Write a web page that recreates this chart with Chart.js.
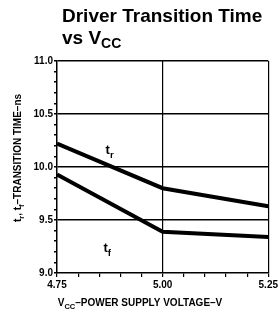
<!DOCTYPE html>
<html>
<head>
<meta charset="utf-8">
<script src="https://cdn.jsdelivr.net/npm/chart.js@4/dist/chart.umd.min.js"></script>
<style>
  html, body { margin: 0; padding: 0; background: #fff; }
  #wrap { position: relative; width: 280px; height: 322px; }
</style>
</head>
<body>
<div id="wrap"><canvas id="chart"></canvas></div>
<script>
// supply voltage (V) and transition times (ns)
const vcc = [4.75, 5.00, 5.25];
const t_rise = [10.22, 9.80, 9.63];
const t_fall = [9.93, 9.39, 9.34];
const y_labels = ['9.0', '9.5', '10.0', '10.5', '11.0'];
const x_labels = ['4.75', '5.00', '5.25'];

const FONT = "'Liberation Sans Narrow', 'Liberation Sans', Arial, sans-serif";

// draw text with a subscript part, returns width
function subText(ctx, parts, x, y, size) {
    let cx = x;
    parts.forEach(p => {
        const s = p.sub ? size * 0.75 : size;
        ctx.font = 'bold ' + s + 'px ' + FONT;
        ctx.fillText(p.t, cx, y + (p.sub ? size * 0.3 : 0));
        cx += ctx.measureText(p.t).width;
    });
    return cx - x;
}
function measure(ctx, parts, size) {
    let w = 0;
    parts.forEach(p => {
        ctx.font = 'bold ' + (p.sub ? size * 0.75 : size) + 'px ' + FONT;
        w += ctx.measureText(p.t).width;
    });
    return w;
}

const labels_plugin = {
    id: 'labels_plugin',
    afterDraw(chart) {
        const ctx = chart.ctx;
        const xs = chart.scales.x, ys = chart.scales.y;
        ctx.save();
        ctx.fillStyle = '#000';
        ctx.textBaseline = 'alphabetic';

        // title
        ctx.font = 'bold 19px Arial, "Liberation Sans", sans-serif';
        ctx.fillText('Driver Transition Time', 62, 22);
        ctx.fillText('vs V', 62, 44);
        let w = ctx.measureText('vs V').width;
        ctx.font = 'bold 14px Arial, "Liberation Sans", sans-serif';
        ctx.fillText('CC', 62 + w, 48);

        // curve labels
        subText(ctx, [{t: 't'}, {t: 'r', sub: true}], xs.getPixelForValue(4.865), ys.getPixelForValue(10.12), 13);
        subText(ctx, [{t: 't'}, {t: 'f', sub: true}], xs.getPixelForValue(4.86), ys.getPixelForValue(9.2), 13);

        // x axis title
        const xt = [{t: 'V'}, {t: 'CC', sub: true}, {t: '\u2013POWER SUPPLY VOLTAGE\u2013V'}];
        const xw = measure(ctx, xt, 10);
        subText(ctx, xt, 140 - xw / 2, 306, 10);

        // y axis title (rotated)
        const yt = [{t: 't'}, {t: 'r', sub: true}, {t: ', t'}, {t: 'f', sub: true}, {t: '\u2013TRANSITION TIME\u2013ns'}];
        const yw = measure(ctx, yt, 10);
        ctx.translate(21, 158);
        ctx.rotate(-Math.PI / 2);
        subText(ctx, yt, -yw / 2, 0, 10);
        ctx.restore();
    }
};

new Chart(
    document.getElementById('chart'),
    {
        type: 'line',
        data: {
            datasets: [
                {
                    label: 'tr',
                    data: vcc.map((v, i) => ({ x: v, y: t_rise[i] })),
                    borderColor: '#000',
                    borderWidth: 4,
                    pointRadius: 0,
                    tension: 0
                },
                {
                    label: 'tf',
                    data: vcc.map((v, i) => ({ x: v, y: t_fall[i] })),
                    borderColor: '#000',
                    borderWidth: 4,
                    pointRadius: 0,
                    tension: 0
                }
            ]
        },
        options: {
            responsive: true,
            maintainAspectRatio: false,
            animation: false,
            layout: { padding: { top: 61, right: 10, left: 0, bottom: 0 } },
            plugins: {
                legend: { display: false },
                tooltip: { enabled: false }
            },
            scales: {
                x: {
                    type: 'linear',
                    min: 4.75,
                    max: 5.25,
                    afterBuildTicks: s => {
                        s.ticks = [];
                        for (let i = 0; i <= 10; i++) s.ticks.push({ value: 4.75 + i * 0.05 });
                    },
                    afterFit: s => { s.height = 49; },
                    ticks: {
                        autoSkip: false,
                        maxRotation: 0,
                        color: '#000',
                        padding: 2,
                        font: { family: FONT, size: 10, weight: 'bold' },
                        callback: (v, i) => (i % 5 === 0 ? x_labels[i / 5] : '')
                    },
                    grid: {
                        color: c => (c.index === 5 || c.index === 10 ? '#000' : 'rgba(0,0,0,0)'),
                        tickColor: '#000',
                        tickLength: 4,
                        lineWidth: 1.2
                    },
                    border: { color: '#000', width: 1.5 }
                },
                y: {
                    min: 9.0,
                    max: 11.0,
                    afterBuildTicks: s => {
                        s.ticks = [];
                        for (let i = 0; i <= 20; i++) s.ticks.push({ value: 9 + i * 0.1 });
                    },
                    afterFit: s => { s.width = 57; },
                    ticks: {
                        autoSkip: false,
                        color: '#000',
                        padding: 1,
                        font: { family: FONT, size: 10, weight: 'bold' },
                        callback: (v, i) => (i % 5 === 0 ? y_labels[i / 5] : '')
                    },
                    grid: {
                        color: c => (c.index % 5 === 0 && c.index > 0 ? '#000' : 'rgba(0,0,0,0)'),
                        tickColor: '#000',
                        tickLength: 3,
                        lineWidth: 1.5
                    },
                    border: { color: '#000', width: 1.5 }
                }
            }
        },
        plugins: [labels_plugin]
    }
);
</script>
</body>
</html>
